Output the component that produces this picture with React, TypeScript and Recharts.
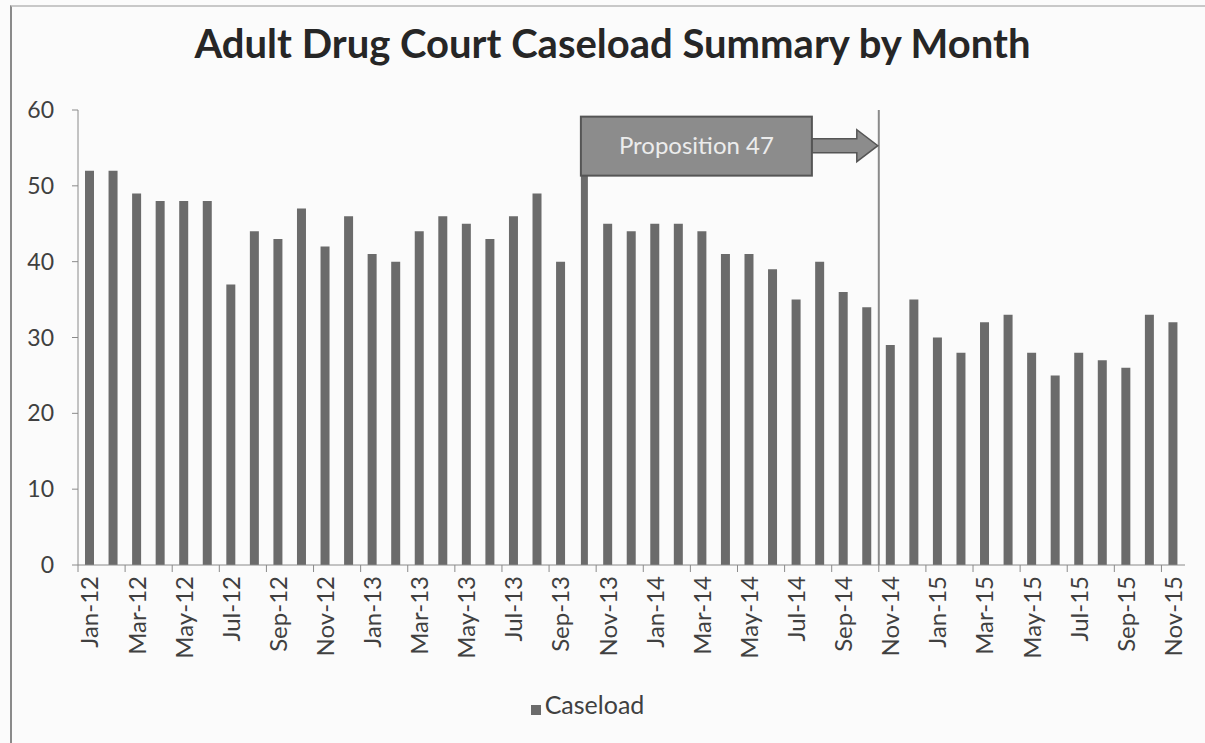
import {
  BarChart,
  Bar,
  XAxis,
  YAxis,
  Legend,
  ReferenceLine,
  ReferenceDot,
} from "recharts";

const months = [
  "Jan-12", "Feb-12", "Mar-12", "Apr-12", "May-12", "Jun-12", "Jul-12", "Aug-12", "Sep-12", "Oct-12", "Nov-12", "Dec-12",
  "Jan-13", "Feb-13", "Mar-13", "Apr-13", "May-13", "Jun-13", "Jul-13", "Aug-13", "Sep-13", "Oct-13", "Nov-13", "Dec-13",
  "Jan-14", "Feb-14", "Mar-14", "Apr-14", "May-14", "Jun-14", "Jul-14", "Aug-14", "Sep-14", "Oct-14", "Nov-14", "Dec-14",
  "Jan-15", "Feb-15", "Mar-15", "Apr-15", "May-15", "Jun-15", "Jul-15", "Aug-15", "Sep-15", "Oct-15", "Nov-15",
];

// Oct-13 is hidden behind the flag pole in the source
const caseload: (number | null)[] = [
  52, 52, 49, 48, 48, 48, 37, 44, 43, 47, 42, 46,
  41, 40, 44, 46, 45, 43, 46, 49, 40, null, 45, 44,
  45, 45, 44, 41, 41, 39, 35, 40, 36, 34, 29, 35,
  30, 28, 32, 33, 28, 25, 28, 27, 26, 33, 32,
];

const yTicks = [0, 10, 20, 30, 40, 50, 60];

const flagMonth = "Oct-13";
const flagLabel = "Proposition 47";
const flagLevel = 55.3;
const cutoffMonth = "Oct-14";

const data = months.map((m, i) => ({ month: m, Caseload: caseload[i] }));

const W = 1205;
const H = 743;
const M = { top: 110, right: 20, left: 0, bottom: 18 };
const Y_W = 78;
const BAND = (W - Y_W - M.right) / months.length;
const BAR = "#6b6b6b";
const FONT = "Lato, 'Open Sans', sans-serif";

const XTick = (props: any) => {
  const { x, y, payload } = props;
  const left = x - BAND / 2;
  return (
    <g>
      <line x1={left} x2={left} y1={y} y2={y + 7} stroke="#8a8a8a" />
      <text
        transform={`translate(${x},${y}) rotate(-90)`}
        x={-11}
        dy="0.36em"
        textAnchor="end"
        fill="#404040"
        fontSize={24}
        fontFamily={FONT}
      >
        {payload.value}
      </text>
    </g>
  );
};

const Flag = (props: any) => {
  const { cx, cy } = props;
  const x0 = cx - 3.5;
  const x1 = x0 + 231;
  const tip = cx + BAND * 12.5;
  const top = cy - 29;
  const bot = cy + 30;
  return (
    <g>
      <path
        d={`M${x1},${cy - 7}L${tip - 22},${cy - 7}L${tip - 22},${cy - 16}L${tip - 1},${cy}L${tip - 22},${cy + 16}L${tip - 22},${cy + 7}L${x1},${cy + 7}Z`}
        fill="#8c8c8c"
        stroke="#555"
        strokeWidth={1.5}
      />
      <rect x={x0} y={top} width={x1 - x0} height={bot - top} fill="#8c8c8c" stroke="#555" strokeWidth={2} />
      <text
        x={(x0 + x1) / 2}
        y={cy}
        dy="0.35em"
        textAnchor="middle"
        fill="#ececec"
        fontSize={24}
        fontFamily={FONT}
      >
        {flagLabel}
      </text>
    </g>
  );
};

export default function App() {
  return (
    <div style={{ position: "relative", width: W, height: H, background: "#fbfbfb", overflow: "hidden" }}>
      <style>{`html,body{margin:0;overflow:hidden}`}</style>
      <div
        style={{
          position: "absolute",
          left: 10,
          top: 5,
          width: W,
          height: H,
          borderLeft: "2px solid #8a8a8a",
          borderTop: "2px solid #c8c8c8",
        }}
      />
      <div
        style={{
          position: "absolute",
          top: 19,
          left: 0,
          width: W,
          textAlign: "center",
          fontFamily: FONT,
          fontWeight: 700,
          fontSize: 40,
          color: "#262626",
          paddingLeft: 20,
          boxSizing: "border-box",
        }}
      >
        Adult Drug Court Caseload Summary by Month
      </div>
      <div style={{ position: "absolute", left: 0, top: 0 }}>
        <BarChart width={W} height={H} data={data} margin={M} barCategoryGap={0}>
          <XAxis
            dataKey="month"
            interval={1}
            height={124}
            tickLine={false}
            tickSize={0}
            tickMargin={0}
            axisLine={{ stroke: "#8a8a8a" }}
            tick={<XTick />}
          />
          <YAxis
            width={Y_W}
            domain={[0, 60]}
            ticks={yTicks}
            interval={0}
            tickSize={6}
            tickMargin={18}
            axisLine={{ stroke: "#8a8a8a" }}
            tickLine={{ stroke: "#8a8a8a" }}
            tick={{ fill: "#404040", fontSize: 23, fontFamily: FONT }}
          />
          <Legend
            verticalAlign="bottom"
            align="center"
            height={36}
            iconType="square"
            iconSize={10}
            formatter={(v: string) => (
              <span style={{ color: "#404040", fontSize: 25, fontFamily: FONT }}>{v}</span>
            )}
          />
          <Bar dataKey="Caseload" fill={BAR} barSize={9} isAnimationActive={false} />
          <ReferenceLine
            segment={[
              { x: flagMonth, y: 0 },
              { x: flagMonth, y: flagLevel },
            ]}
            stroke={BAR}
            strokeWidth={7}
          />
          <ReferenceLine x={cutoffMonth} position="end" stroke="#8a8a8a" strokeWidth={2} />
          <ReferenceDot x={flagMonth} y={flagLevel} shape={<Flag />} />
        </BarChart>
      </div>
    </div>
  );
}
